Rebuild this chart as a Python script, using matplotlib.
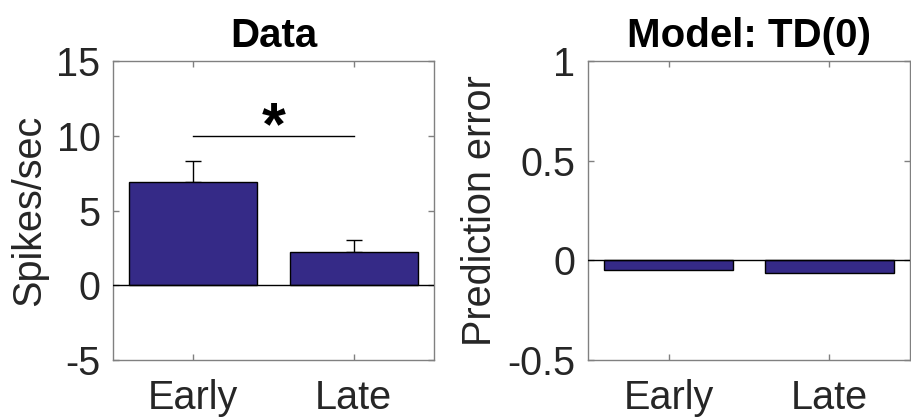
import matplotlib
matplotlib.use("Agg")
import matplotlib.pyplot as plt
import numpy as np

plt.rcParams["font.family"] = ["Liberation Sans", "DejaVu Sans"]

categories = ["Early", "Late"]
data_means = [6.9, 2.2]
data_sem = [1.4, 0.8]
model_means = [-0.05, -0.063]

BAR_COLOR = "#352A87"
AXIS_COLOR = "#808080"
TEXT_COLOR = "#262626"
FS = 28.5
TITLE_FS = 29


def style_axes(ax, ylim, yticks, yticklabels):
    ax.set_xlim(0.5, 2.5)
    ax.set_ylim(*ylim)
    ax.set_xticks([1, 2])
    ax.set_xticklabels(categories)
    ax.set_yticks(yticks)
    ax.set_yticklabels(yticklabels)
    for s in ax.spines.values():
        s.set_color(AXIS_COLOR)
        s.set_linewidth(1.0)
    ax.tick_params(direction="in", length=4, width=1, color=AXIS_COLOR,
                   labelcolor=TEXT_COLOR, labelsize=FS, top=True, right=True)
    ax.tick_params(axis="x", pad=14)
    ax.tick_params(axis="y", pad=9)
    ax.axhline(0, color="black", linewidth=1, zorder=3)


fig = plt.figure(figsize=(9.11, 4.19), dpi=100)

x = np.arange(1, len(categories) + 1)

# left panel: recorded data
ax1 = fig.add_axes([113 / 911, 59 / 419, 321 / 911, 299 / 419])
ax1.bar(x, data_means, width=0.8, color=BAR_COLOR, edgecolor="black", linewidth=1, zorder=2)
ax1.errorbar(x, data_means, yerr=[np.zeros(len(x)), data_sem], fmt="none",
             ecolor="black", elinewidth=1, capsize=6, capthick=1, zorder=1)
style_axes(ax1, (-5, 15), [-5, 0, 5, 10, 15], ["-5", "0", "5", "10", "15"])
ax1.plot([1, 2], [10, 10], color="black", linewidth=1)
ax1.text(1.5, 10.45, "*", ha="center", va="center", fontsize=44, fontweight="bold")
ax1.set_ylabel("Spikes/sec", fontsize=FS, color=TEXT_COLOR, labelpad=6)
ax1.set_title("Data", fontsize=TITLE_FS, fontweight="bold", pad=10)

# right panel: model
ax2 = fig.add_axes([588 / 911, 59 / 419, 322 / 911, 299 / 419])
ax2.bar(x, model_means, width=0.8, color=BAR_COLOR, edgecolor="black", linewidth=1, zorder=2)
style_axes(ax2, (-0.5, 1), [-0.5, 0, 0.5, 1], ["-0.5", "0", "0.5", "1"])
ax2.set_ylabel("Prediction error", fontsize=FS, color=TEXT_COLOR, labelpad=6)
ax2.set_title("Model: TD(0)", fontsize=TITLE_FS, fontweight="bold", pad=10)

fig.savefig("out.png", dpi=100)
